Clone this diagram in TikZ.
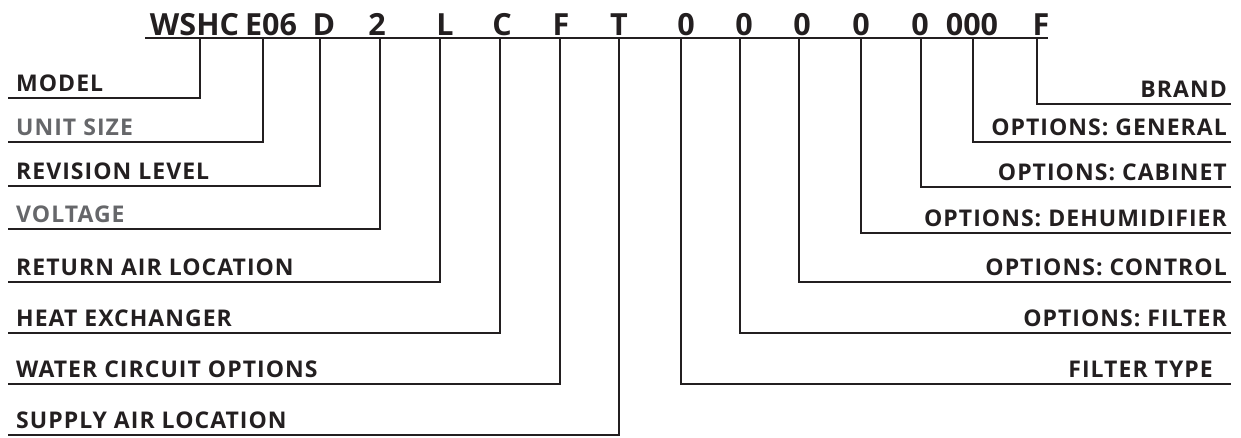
\documentclass[tikz,border=0pt]{standalone}
\usepackage{fontspec}
\setmainfont{Open Sans}
\newfontfamily\labfont{Open Sans}[LetterSpace=4.5]
\definecolor{ink}{HTML}{231F20}
\definecolor{greytxt}{HTML}{66676A}
\begin{document}
\begin{tikzpicture}[x=1pt,y=-1pt,
  codetxt/.style={inner sep=0pt,anchor=base,text=ink,font=\fontsize{30.5}{32}\selectfont\bfseries},
  labtxt/.style={inner sep=0pt,text=ink,font=\labfont\fontsize{23}{26}\selectfont\bfseries},
  greylab/.style={labtxt,text=greytxt},
  conn/.style={draw=ink,line width=2.2pt,line cap=butt},
  uline/.style={draw=ink,line width=2.2pt}]
\useasboundingbox (0,0) rectangle (1241,437);
% code letters
\foreach \n/\x/\t in {c1/194.5/WSHC,c2/271/E06,c3/324/D,c4/377/2,c5/445/L,c6/502/C,c7/561/F,c8/619/T,c9/686/0,c10/744/0,c11/802/0,c12/861/0,c13/920/0,c14/972/000,c15/1041/F}
  \node[codetxt] (\n) at (\x,35) {\t};
\coordinate (ulA) at (145,38);
\coordinate (ulB) at (1048,38);
\draw[uline] (ulA) -- (ulB);
% left side labels
\foreach \n/\x/\y/\t/\s in {
  l1/200/98/MODEL/labtxt,
  l2/263/142/UNIT SIZE/greylab,
  l3/320/186/REVISION LEVEL/labtxt,
  l4/380/229/VOLTAGE/greylab,
  l5/440/282/RETURN AIR LOCATION/labtxt,
  l6/500/333/HEAT EXCHANGER/labtxt,
  l7/560/384/WATER CIRCUIT OPTIONS/labtxt,
  l8/619/435/SUPPLY AIR LOCATION/labtxt}{
  \coordinate (\n top) at (\x,39);
  \coordinate (\n end) at (8,\y);
  \node[\s,anchor=base west] (\n) at (16,\y-6.5) {\t};
  \draw[conn] (\n top) |- (\n end);
}
% right side labels
\foreach \n/\x/\y/\t/\r in {
  r1/1037/104/BRAND/1227,
  r2/973/142/OPTIONS: GENERAL/1227,
  r3/921/187/OPTIONS: CABINET/1227,
  r4/861/233/OPTIONS: DEHUMIDIFIER/1227,
  r5/799/282/OPTIONS: CONTROL/1227,
  r6/740/333/OPTIONS: FILTER/1227,
  r7/681/384/FILTER TYPE/1213}{
  \coordinate (\n top) at (\x,39);
  \coordinate (\n end) at (1231,\y);
  \node[labtxt,anchor=base east] (\n) at (\r,\y-6.5) {\t};
  \draw[conn] (\n top) |- (\n end);
}
\end{tikzpicture}
\end{document}
